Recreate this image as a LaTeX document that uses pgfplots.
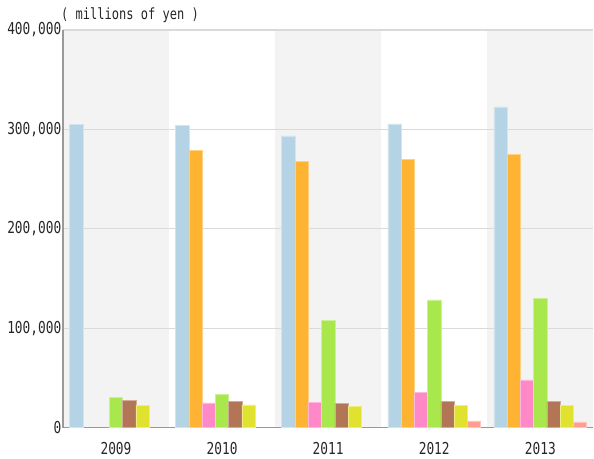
\documentclass[border=0pt]{standalone}
\usepackage{fontspec}
\setmainfont{DejaVu Sans Mono}[FakeStretch=0.78]
\usepackage{pgfplots}
\pgfplotsset{compat=1.18}
\definecolor{cblue}{HTML}{B4D3E4}
\definecolor{corange}{HTML}{FFB333}
\definecolor{cpink}{HTML}{FF88C6}
\definecolor{cgreen}{HTML}{A9E84D}
\definecolor{cbrown}{HTML}{B27556}
\definecolor{cyellow}{HTML}{E1E22F}
\definecolor{csalmon}{HTML}{FF9E90}
\definecolor{band}{HTML}{F3F3F3}
\definecolor{gridc}{HTML}{DADADA}
\definecolor{axc}{HTML}{999999}
\begin{document}
\begin{tikzpicture}
\begin{axis}[
  set layers,
  scale only axis, width=531bp, height=398bp,
  xmin=-0.5, xmax=4.5, ymin=0, ymax=400000,
  xtick={0,1,2,3,4}, xticklabels={2009,2010,2011,2012,2013},
  ytick={0,100000,200000,300000,400000},
  scaled y ticks=false,
  yticklabel style={/pgf/number format/.cd,1000 sep={,},fixed,assume math mode=true},
  axis x line*=bottom, axis y line*=left,
  axis line style={-, axc, line width=1.3bp},
  ymajorgrids, grid style={color=gridc, line width=1.2bp},
  major tick length=0pt,
  tick label style={font=\fontsize{16.5}{17}\selectfont, text=black!85, inner sep=1.5bp},
  xticklabel style={yshift=-13bp},
  ybar, bar width=0.125,
  clip=false,
]
\begin{pgfonlayer}{axis background}
\fill[band] (axis cs:-0.5,0) rectangle (axis cs:0.5,400000);
\fill[band] (axis cs:1.5,0) rectangle (axis cs:2.5,400000);
\fill[band] (axis cs:3.5,0) rectangle (axis cs:4.5,400000);
\end{pgfonlayer}
\addplot[fill=cblue, draw=cblue!60!white, line width=0.5bp, bar shift=-0.375] coordinates {(0,305000) (1,304000) (2,293500) (3,305500) (4,322500)};
\addplot[fill=corange, draw=corange!60!white, line width=0.5bp, bar shift=-0.25] coordinates {(1,278500) (2,267500) (3,269500) (4,274500)};
\addplot[fill=cpink, draw=cpink!60!white, line width=0.5bp, bar shift=-0.125] coordinates {(1,24800) (2,25200) (3,35500) (4,48000)};
\addplot[fill=cgreen, draw=cgreen!60!white, line width=0.5bp, bar shift=0] coordinates {(0,30000) (1,33000) (2,107500) (3,128500) (4,130000)};
\addplot[fill=cbrown, draw=cbrown!60!white, line width=0.5bp, bar shift=0.125] coordinates {(0,27500) (1,26000) (2,24000) (3,26000) (4,26000)};
\addplot[fill=cyellow, draw=cyellow!60!white, line width=0.5bp, bar shift=0.25] coordinates {(0,22500) (1,22800) (2,21500) (3,22500) (4,22000)};
\addplot[fill=csalmon, draw=csalmon!60!white, line width=0.5bp, bar shift=0.375] coordinates {(3,6800) (4,5800)};
\node[anchor=base west, inner sep=0pt, font=\fontsize{15.5}{16}\selectfont, text=black!85] at (rel axis cs:0,1) [xshift=-2bp, yshift=10bp] {( millions of yen )};
\end{axis}
\path (-63bp,-31bp) rectangle (531bp,428bp);
\end{tikzpicture}
\end{document}
